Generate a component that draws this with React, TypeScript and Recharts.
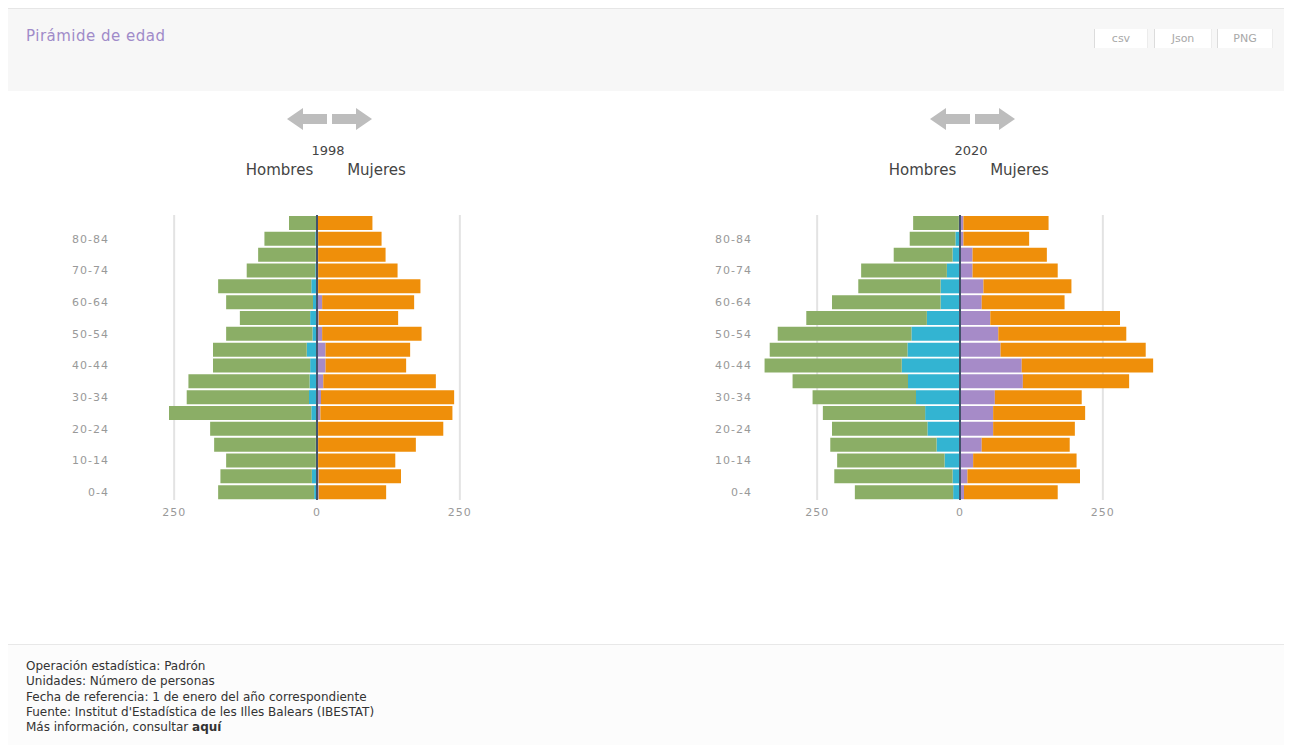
import {
  BarChart,
  Bar,
  XAxis,
  YAxis,
  CartesianGrid,
  ReferenceLine,
} from "recharts";

const edades = [
  "0-4", "5-9", "10-14", "15-19", "20-24", "25-29", "30-34", "35-39", "40-44",
  "45-49", "50-54", "55-59", "60-64", "65-69", "70-74", "75-79", "80-84", "85+",
];

// 1998 (ordered 0-4 .. 85+)
const hombres1998 = [173, 169, 159, 180, 187, 259, 228, 225, 182, 182, 159, 135, 159, 173, 123, 103, 92, 49];
const hombresExt1998 = [5, 9, 2, 2, 1, 10, 14, 13, 12, 18, 8, 12, 7, 10, 3, 2, 3, 1];
const mujeres1998 = [121, 147, 137, 173, 221, 237, 240, 208, 156, 163, 183, 142, 170, 181, 141, 120, 113, 97];
const mujeresExt1998 = [3, 3, 2, 2, 2, 6, 7, 11, 15, 15, 9, 3, 9, 2, 2, 2, 2, 1];

// 2020
const hombres2020 = [184, 220, 215, 227, 224, 240, 258, 293, 342, 333, 319, 269, 224, 178, 173, 116, 88, 82];
const hombresExt2020 = [12, 13, 27, 41, 57, 61, 77, 91, 102, 92, 85, 58, 34, 34, 23, 13, 8, 2];
const mujeres2020 = [171, 210, 204, 192, 201, 219, 213, 296, 338, 325, 291, 280, 183, 195, 171, 152, 121, 155];
const mujeresExt2020 = [7, 13, 23, 38, 58, 58, 61, 110, 108, 71, 67, 53, 38, 41, 22, 22, 6, 6];

const xTicks = [-250, 0, 250];

const VERDE = "#8bae66";
const AZUL = "#33b4d2";
const NARANJA = "#ef8f0a";
const LILA = "#a68bc8";

function buildRows(h: number[], he: number[], m: number[], me: number[]) {
  return edades.map((edad, i) => ({
    edad,
    hExt: -he[i],
    hNac: -(h[i] - he[i]),
    mExt: me[i],
    mNac: m[i] - me[i],
  }));
}

const FONT = "'DejaVu Sans', Verdana, sans-serif";

function Arrows({ left }: { left: number }) {
  return (
    <svg width={90} height={26} style={{ position: "absolute", left, top: 100 }}>
      <polygon points="0,11 16,0 16,6 40,6 40,16 16,16 16,22" fill="#bdbdbd" />
      <polygon points="85,11 69,0 69,6 45,6 45,16 69,16 69,22" fill="#bdbdbd" />
    </svg>
  );
}

function Pyramid({
  left,
  year,
  titleX,
  data,
}: {
  left: number;
  year: string;
  titleX: number;
  data: ReturnType<typeof buildRows>;
}) {
  const tick = { fill: "#999", fontSize: 11, fontFamily: FONT, letterSpacing: 1 };
  const label = {
    position: "absolute" as const,
    top: 153,
    width: 95,
    textAlign: "center" as const,
    fontSize: 15,
    color: "#444",
    fontFamily: FONT,
  };
  return (
    <>
      <Arrows left={titleX - 41} />
      <div
        style={{
          position: "absolute",
          left: titleX - 60,
          width: 120,
          top: 135,
          textAlign: "center",
          fontSize: 13,
          color: "#444",
          fontFamily: FONT,
        }}
      >
        {year}
      </div>
      <div style={{ ...label, left: titleX - 96 }}>Hombres</div>
      <div style={{ ...label, left: titleX + 1 }}>Mujeres</div>
      <div style={{ position: "absolute", left, top: 192 }}>
        <BarChart
          width={480}
          height={330}
          data={data}
          layout="vertical"
          stackOffset="sign"
          barCategoryGap={1}
          margin={{ top: 15, right: 0, bottom: 10, left: 10 }}
        >
          <CartesianGrid
            horizontal={false}
            syncWithTicks
            stroke="#e3e3e3"
            strokeWidth={2}
          />
          <XAxis
            type="number"
            domain={[-350, 350]}
            ticks={xTicks}
            tickFormatter={(v: number) => String(Math.abs(v))}
            axisLine={false}
            tickLine={false}
            tick={tick}
            height={20}
          />
          <YAxis
            type="category"
            dataKey="edad"
            reversed
            interval={1}
            axisLine={false}
            tickLine={false}
            tick={tick}
            width={70}
          />
          <Bar dataKey="hExt" stackId="a" fill={AZUL} isAnimationActive={false} />
          <Bar dataKey="hNac" stackId="a" fill={VERDE} isAnimationActive={false} />
          <Bar dataKey="mExt" stackId="a" fill={LILA} isAnimationActive={false} />
          <Bar dataKey="mNac" stackId="a" fill={NARANJA} isAnimationActive={false} />
          <ReferenceLine x={0} stroke="#44536b" strokeWidth={2} />
        </BarChart>
      </div>
    </>
  );
}

const botones = ["csv", "Json", "PNG"];
const botonX = [1086, 1146, 1209];
const botonW = [54, 58, 56];

const notas = [
  "Operación estadística: Padrón",
  "Unidades: Número de personas",
  "Fecha de referencia: 1 de enero del año correspondiente",
  "Fuente: Institut d'Estadística de les Illes Balears (IBESTAT)",
];

export default function App() {
  const d1998 = buildRows(hombres1998, hombresExt1998, mujeres1998, mujeresExt1998);
  const d2020 = buildRows(hombres2020, hombresExt2020, mujeres2020, mujeresExt2020);
  return (
    <div
      style={{
        position: "relative",
        width: 1284,
        height: 737,
        background: "#fff",
        fontFamily: FONT,
        overflow: "hidden",
      }}
    >
      <div
        style={{
          position: "absolute",
          left: 0,
          top: 0,
          width: 1284,
          height: 82,
          background: "#f7f7f7",
          borderTop: "1px solid #e6e6e6",
        }}
      />
      <div
        style={{
          position: "absolute",
          left: 18,
          top: 19,
          fontSize: 15,
          letterSpacing: 0.5,
          color: "#a08bc9",
        }}
      >
        Pirámide de edad
      </div>
      {botones.map((b, i) => (
        <div
          key={b}
          style={{
            position: "absolute",
            left: botonX[i],
            top: 21,
            width: botonW[i],
            height: 19,
            background: "#fff",
            borderLeft: "1px solid #dcdcdc",
            borderRight: "1px solid #ececec",
            boxSizing: "border-box",
            textAlign: "center",
            fontSize: 11,
            lineHeight: "19px",
            color: "#a8a8a8",
          }}
        >
          {b}
        </div>
      ))}
      <Pyramid left={29} year="1998" titleX={320} data={d1998} />
      <Pyramid left={672} year="2020" titleX={963} data={d2020} />
      <div
        style={{
          position: "absolute",
          left: 0,
          top: 636,
          width: 1284,
          height: 101,
          background: "#fcfcfc",
          borderTop: "1px solid #e8e8e8",
        }}
      />
      <div
        style={{
          position: "absolute",
          left: 18,
          top: 651,
          fontSize: 12,
          lineHeight: "15.3px",
          color: "#333",
        }}
      >
        {notas.map((n) => (
          <div key={n}>{n}</div>
        ))}
        <div>
          Más información, consultar <b>aquí</b>
        </div>
      </div>
    </div>
  );
}
